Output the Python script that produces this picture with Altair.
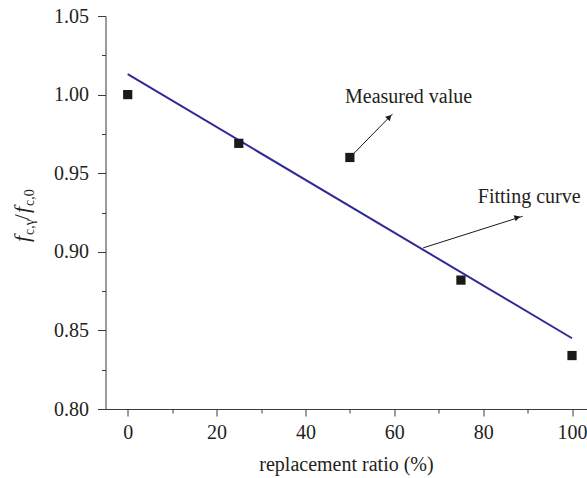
import altair as alt
import pandas as pd

# ---- data ----
ratio = [0, 25, 50, 75, 100]
measured = [1.000, 0.969, 0.960, 0.882, 0.834]

fit_x = [0, 100]
fit_y = [1.013, 0.845]

x_ticks = [0, 10, 20, 30, 40, 50, 60, 70, 80, 90, 100]
y_ticks = [0.80, 0.825, 0.85, 0.875, 0.90, 0.925, 0.95, 0.975, 1.00, 1.025, 1.05]

# annotations (arrows + labels)
arrow_x0 = [50.8, 66.5]
arrow_y0 = [0.9623, 0.9025]
arrow_x1 = [59.6, 88.9]
arrow_y1 = [0.9877, 0.9226]
head_x = [58.9, 87.7]
head_y = [0.9857, 0.9219]
arrow_angle = [44.6, 72.4]
label_text = ["Measured value", "Fitting curve"]
label_x = [48.9, 78.8]
label_y = [0.9947, 0.9313]

FONT = "Liberation Serif, Times New Roman, DejaVu Serif, serif"
INK = "#231f20"
AX = "#3a3a3a"
LINE_COLOR = "#2e2a96"

points_df = pd.DataFrame({"ratio": ratio, "value": measured})
fit_df = pd.DataFrame({"ratio": fit_x, "value": fit_y})
arrow_df = pd.DataFrame({"x0": arrow_x0, "y0": arrow_y0, "x1": arrow_x1,
                         "y1": arrow_y1, "hx": head_x, "hy": head_y,
                         "angle": arrow_angle})
label_df = pd.DataFrame({"text": label_text, "x": label_x, "y": label_y})

xscale = alt.Scale(domain=[-5, 103.26], nice=False, zero=False)
yscale = alt.Scale(domain=[0.80, 1.05], nice=False, zero=False)

xaxis = alt.Axis(
    values=x_ticks,
    labelExpr="datum.value % 20 === 0 ? datum.label : ''",
    tickSize={"condition": {"test": "datum.value % 20 !== 0", "value": 4}, "value": 7},
    labelPadding=6,
    title="replacement ratio (%)",
    titlePadding=12,
    grid=False,
)
yaxis = alt.Axis(
    values=y_ticks,
    format=".2f",
    labelExpr="abs(datum.value*20 - round(datum.value*20)) < 0.001 ? datum.label : ''",
    tickSize={"condition": {"test": "abs(datum.value*20 - round(datum.value*20)) >= 0.001", "value": 4}, "value": 8},
    labelPadding=9,
    title=None,
    grid=False,
)


def X(field):
    return alt.X(field, type="quantitative", scale=xscale, axis=xaxis)


def Y(field):
    return alt.Y(field, type="quantitative", scale=yscale, axis=yaxis)


fit_line = alt.Chart(fit_df).mark_line(color=LINE_COLOR, strokeWidth=2).encode(
    x=X("ratio"), y=Y("value")
)

pts = alt.Chart(points_df).mark_point(
    shape="square", filled=True, size=85, color="#1a1a1a", opacity=1
).encode(x=X("ratio"), y=Y("value"))

arrows = alt.Chart(arrow_df).mark_rule(color="#1a1a1a", strokeWidth=1).encode(
    x=X("x0"), y=Y("y0"), x2="x1", y2="y1"
)

heads = alt.Chart(arrow_df).mark_point(
    shape="triangle-up", filled=True, size=42, color="#1a1a1a", opacity=1
).encode(x=X("hx"), y=Y("hy"), angle=alt.Angle("angle:Q", scale=None))

labels = alt.Chart(label_df).mark_text(
    align="left", baseline="alphabetic", font=FONT, fontSize=20, color=INK
).encode(x=X("x"), y=Y("y"), text="text:N")

# y-axis title  f_{c,γ}/f_{c,0}, drawn as rotated pieces
title_pieces = [
    ("f", "italic", 22, 0, 0),
    ("c,γ", "normal", 14, 7, 5),
    ("/", "normal", 21, 22, 0),
    ("f", "italic", 22, 29, 0),
    ("c,0", "normal", 14, 36, 5),
]
title_layers = []
for txt, style, size, dx, dy in title_pieces:
    title_layers.append(
        alt.Chart(alt.Data(values=[{"t": txt}])).mark_text(
            angle=270, align="left", baseline="alphabetic", font=FONT,
            fontStyle=style, fontSize=size, color=INK, dx=dx, dy=dy
        ).encode(x=alt.value(-77), y=alt.value(226), text="t:N")
    )

chart = alt.layer(fit_line, pts, arrows, heads, labels, *title_layers).properties(
    width=481,
    height=393,
    autosize="none",
    padding={"left": 105.5, "top": 16, "right": 0, "bottom": 69},
).configure_view(stroke=None).configure_axis(
    domainColor=AX, tickColor=AX, domainWidth=1, tickWidth=1,
    labelFont=FONT, labelFontSize=20, labelColor=INK,
    titleFont=FONT, titleFontSize=20, titleColor=INK, titleFontWeight="normal",
)

chart.save("out.html", embed_options={"renderer": "svg", "actions": False})
